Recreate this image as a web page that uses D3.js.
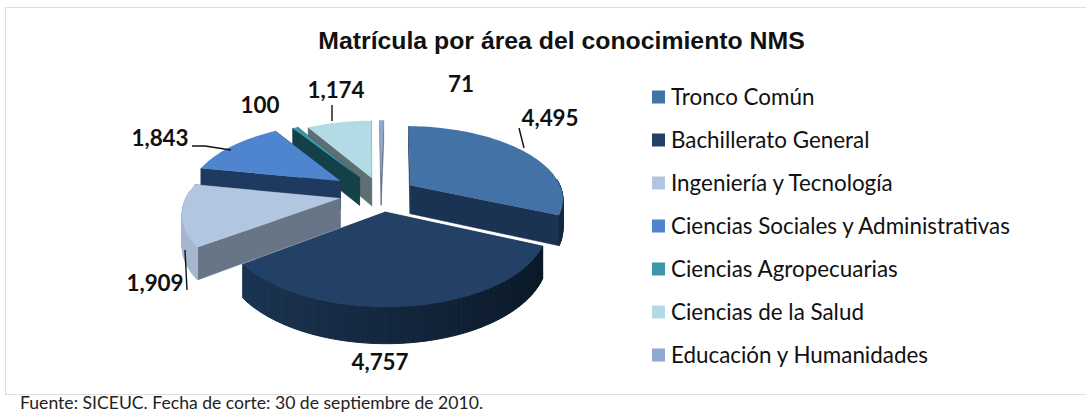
<!DOCTYPE html>
<html>
<head>
<meta charset="utf-8">
<script src="https://cdn.jsdelivr.net/npm/d3@7"></script>
<style>
  html, body { margin: 0; padding: 0; background: #fff; overflow: hidden; }
  text { font-family: Lato, sans-serif; fill: #111; }
</style>
</head>
<body>
<svg id="chart" width="1086" height="413"></svg>
<script>
const categories = ['Tronco Común', 'Bachillerato General', 'Ingeniería y Tecnología',
  'Ciencias Sociales y Administrativas', 'Ciencias Agropecuarias', 'Ciencias de la Salud',
  'Educación y Humanidades'];
const values = [4495, 4757, 1909, 1843, 100, 1174, 71];
const valueLabels = ['4,495', '4,757', '1,909', '1,843', '100', '1,174', '71'];
const titleText = 'Matrícula por área del conocimiento NMS';
const sourceText = 'Fuente: SICEUC. Fecha de corte: 30 de septiembre de 2010.';

const topColors = ['#4272a6', '#234066', '#b2c6e1', '#4f85cf', '#3d97a8', '#b2dbe6', '#93a8d0'];
const cutColors = ['#1b3352', '#1b3555', '#677586', '#1f3a60', '#144148', '#5f6e72', '#5d6c85'];
const wallLeft  = ['#1b3352', '#1d3857', '#a6b6ce', '#1f3a60', '#144148', '#8fb0b8', '#5d6c85'];
const wallRight = ['#14283f', '#0a1725', '#a6b6ce', '#1f3a60', '#144148', '#8fb0b8', '#5d6c85'];

// how far each slice is pulled out of the pie
const explodes = [0.23, 0.24, 0.27, 0.33, 0.28, 0.24, 0.24];

// label positions and leader lines, same order as categories
const labelPos = [[550, 118], [380, 362], [155, 283], [160, 138], [260, 105], [336, 90], [461, 84]];
const leaders = [
  [[519, 128], [524, 148]],
  null,
  [[185, 250], [187, 290]],
  [[192, 146], [205, 146], [231, 150]],
  null,
  [[332, 105], [332, 121]],
  null
];

const svg = d3.select('#chart');

// pie is laid on a unit disc and seen in perspective
const cx = 381, cy = 194;
const rx = 153, ry = 72, persp = 0.17, depth = 29;

function project(u, v, down) {
  const w = 1 - persp * v;
  return [cx + rx * u / w, cy + (ry * v + down) / w];
}

const pie = d3.pie().sort(null).value(d => d).startAngle(0.02).endAngle(2 * Math.PI + 0.02);
const arcs = pie(values);
const line = d3.line();

// slices further back get drawn first
const order = [6, 5, 4, 3, 0, 2, 1];
const pieG = svg.append('g');

order.forEach(i => {
  const a = arcs[i];
  const mid = (a.startAngle + a.endAngle) / 2;
  const ox = explodes[i] * Math.sin(mid), oy = -explodes[i] * Math.cos(mid);
  const rim = ang => [ox + Math.sin(ang), oy - Math.cos(ang)];
  const g = pieG.append('g');

  const steps = Math.max(2, Math.ceil((a.endAngle - a.startAngle) / 0.03));
  const angs = d3.range(steps + 1).map(k => a.startAngle + (a.endAngle - a.startAngle) * k / steps);
  const wallScale = d3.scaleLinear().domain([-1, 1]).range([0, 1]);
  const wallColor = d3.interpolateRgb(wallLeft[i], wallRight[i]);

  // cut faces
  [a.startAngle, a.endAngle].forEach(ang => {
    const r = rim(ang);
    const quad = [project(ox, oy, 0), project(r[0], r[1], 0), project(r[0], r[1], depth), project(ox, oy, depth)];
    g.append('path').attr('d', line(quad) + 'Z')
      .attr('fill', cutColors[i]).attr('stroke', cutColors[i]).attr('stroke-width', 0.5);
  });

  // outer wall in thin strips so the shade can change along it
  for (let k = 0; k < steps; k++) {
    const r0 = rim(angs[k]), r1 = rim(angs[k + 1]);
    const m = (angs[k] + angs[k + 1]) / 2;
    if (Math.cos(m) > 0.1) continue;
    const quad = [project(r0[0], r0[1], 0), project(r1[0], r1[1], 0), project(r1[0], r1[1], depth), project(r0[0], r0[1], depth)];
    const c = wallColor(wallScale(Math.sin(m)));
    g.append('path').attr('d', line(quad) + 'Z').attr('fill', c).attr('stroke', c).attr('stroke-width', 1);
  }

  // top face
  const topPts = [project(ox, oy, 0)].concat(angs.map(t => { const r = rim(t); return project(r[0], r[1], 0); }));
  g.append('path').attr('d', line(topPts) + 'Z').attr('fill', topColors[i]);
});

// leader lines
leaders.forEach(l => {
  if (!l) return;
  svg.append('path').attr('d', line(l)).attr('fill', 'none').attr('stroke', '#111').attr('stroke-width', 1.4);
});

// value labels
svg.selectAll('.val').data(valueLabels).enter().append('text')
  .attr('class', 'val')
  .attr('x', (d, i) => labelPos[i][0])
  .attr('y', (d, i) => labelPos[i][1])
  .attr('dy', '0.35em')
  .attr('text-anchor', 'middle')
  .style('font-size', '22.4px').style('font-weight', 700)
  .text(d => d);

// title
svg.append('text').attr('x', 561.5).attr('y', 49).attr('text-anchor', 'middle')
  .style('font-family', '"Liberation Sans", Arial, sans-serif')
  .style('font-size', '24.8px').style('font-weight', 700).text(titleText);

// legend
const legendY = d3.scalePoint().domain(categories).range([97, 355]);
const legend = svg.selectAll('.leg').data(categories).enter().append('g')
  .attr('class', 'leg')
  .attr('transform', d => `translate(652, ${legendY(d)})`);
legend.append('rect').attr('x', 0).attr('y', -6.5).attr('width', 13).attr('height', 13)
  .attr('fill', (d, i) => topColors[i]);
legend.append('text').attr('x', 19).attr('dy', '0.35em')
  .style('font-size', '22.4px').text(d => d);

// frame and source line
svg.append('path').attr('d', 'M1086,7.5H5.5V394.5H1086').attr('fill', 'none').attr('stroke', '#dedede').attr('stroke-width', 1.2);
svg.append('text').attr('x', 20).attr('y', 408.5).style('font-size', '17.6px').style('fill', '#222').text(sourceText);
</script>
</body>
</html>
